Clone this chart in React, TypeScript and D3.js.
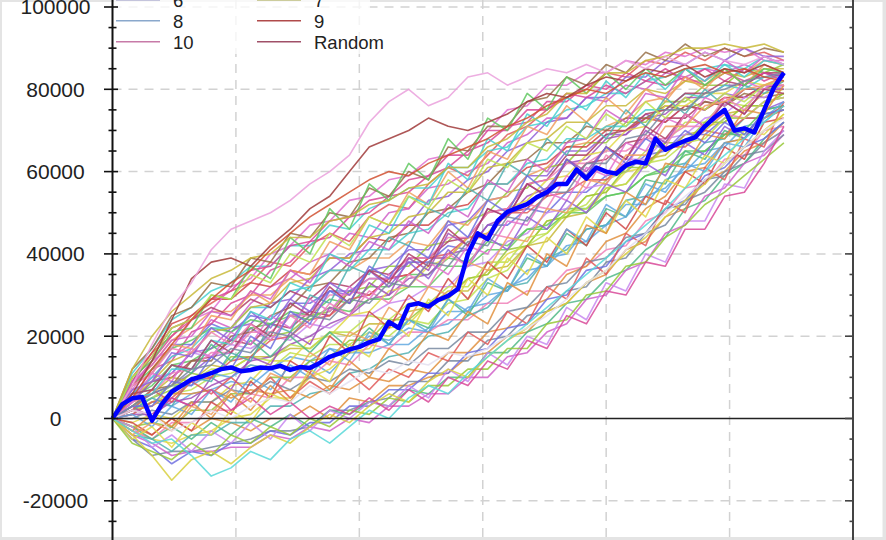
import React from "react";
import * as d3 from "d3";

// Values are in thousands of currency units (k). x step of simulated paths: 8 trades; blue path: 4 trades.
const UNIT = 1000;
const SIM_STEP = 8;
const EQUITY_STEP = 4;

const equityCurve = [0,3.5,4.9,5.2,-0.5,3.5,6.5,8,9.5,10.2,11,12,12.4,11.5,11.8,12.4,12.2,12.8,11.8,12.5,12.3,13.5,15,15.8,16.8,17.4,18.5,19.3,23.5,22,27.5,28,27.2,28.8,29.8,31.5,40,45,43.6,48,50.2,51.2,52.1,53.8,55,57,57,60.5,58.3,61,60,59.5,61.5,62.4,62,68,65.3,66.5,67.5,68.3,71,73.2,75,70,70.5,69.5,75,80.5,84];

const s01 = [0,9,16,20,25,28,31,33,38,37,42,45,43,49,52,51,57,61,59,64,69,71,75,78,80,84,83,87,86,89,87,90,88,89,87];
const s02 = [0,6,10,15,18,24,22,28,32,34,38,40,45,44,50,51,56,57,60,62,67,69,73,73,78,77,81,80,84,83,85,84,86,84,83];
const s03 = [0,3,6,8,11,15,16,22,19,25,26,31,30,36,37,41,41,47,48,53,54,59,59,65,65,69,69,74,72,76,75,79,78,81,80];
const s04 = [0,1,4,3,6,7,9,8,12,9,14,11,16,16,18,18,22,23,27,28,32,34,39,40,46,47,52,52,58,60,65,66,71,72,76];
const s05 = [0,5,8,13,14,17,19,22,23,26,25,29,28,32,32,35,35,39,38,43,42,46,47,51,51,54,55,59,60,64,65,69,69,74,75];
const s06 = [0,-3,-5,-6,-4,-3,0,1,5,5,10,12,16,17,22,23,28,29,34,35,40,42,48,49,54,55,60,61,66,67,71,72,76,76,79];
const s07 = [0,11,17,24,27,31,33,37,37,42,42,47,46,51,53,56,56,61,61,65,66,71,72,75,76,79,79,82,83,85,85,86,85,88,86];
const s08 = [0,-2,-4,0,-3,0,-1,-3,0,0,3,0,5,4,8,8,10,11,15,16,20,21,26,28,33,35,41,43,49,51,58,60,65,67,72];
const s09 = [0,4,9,10,14,15,19,18,23,22,26,25,31,30,34,35,39,39,44,44,50,51,56,57,62,63,67,68,73,73,77,76,80,80,82];
const s10 = [0,2,5,7,11,10,15,15,20,21,25,26,31,32,37,37,42,43,48,50,55,56,61,62,67,67,72,72,77,77,81,81,85,84,86];
const s11 = [0,-3,-5,-1,-1,2,2,6,5,10,10,14,13,18,17,21,21,24,24,28,28,31,31,36,37,41,42,48,50,56,57,63,64,70,71];
const s12 = [0,8,11,18,18,23,21,25,24,28,28,31,31,34,34,38,38,42,41,47,47,51,50,55,55,59,60,64,65,69,69,73,73,77,78];
const s13 = [0,2,4,6,7,10,11,13,12,16,15,18,18,21,20,24,23,28,29,34,36,42,45,50,52,58,60,65,67,72,72,77,76,80,81];
const s14 = [0,5,12,14,21,23,28,30,36,38,43,44,49,50,54,55,59,61,65,67,71,72,77,77,81,80,84,82,85,82,85,82,85,82,84];
const s15 = [0,-5,-9,-8,-8,-7,-6,-5,-3,-3,-2,2,2,4,5,9,9,14,14,19,20,25,26,31,32,38,39,45,47,53,55,60,62,67,70];
const s16 = [0,4,6,10,9,13,12,15,15,17,17,21,20,23,23,26,27,31,31,36,37,42,43,49,50,56,57,63,64,69,70,74,75,79,80];
const s17 = [0,8,13,19,22,26,26,30,30,34,32,36,36,39,39,43,42,48,47,53,54,59,61,66,67,71,73,77,78,82,82,85,84,87,86];
const s18 = [0,1,1,4,5,8,10,14,15,18,20,23,25,29,30,34,35,40,41,47,49,54,56,62,63,68,69,73,74,78,78,81,81,84,83];
const s19 = [0,-2,-5,-2,-5,-1,-4,0,-2,1,-2,2,1,4,3,7,6,10,10,16,16,21,23,28,29,34,36,41,44,51,53,59,62,68,72];
const s20 = [0,10,16,23,25,29,29,33,32,36,35,39,39,44,43,47,47,51,52,57,57,61,62,66,66,70,70,73,72,76,75,78,78,81,81];
const s21 = [0,3,7,8,14,14,20,21,25,27,32,33,38,39,44,45,50,51,55,57,62,63,67,67,71,70,73,73,76,75,77,76,79,78,79];
const s22 = [0,-4,-5,-8,-4,-4,-1,-1,3,3,6,7,11,12,15,16,20,21,25,27,32,33,39,41,46,47,53,54,61,62,67,68,73,73,76];
const s23 = [0,5,10,11,16,15,18,17,20,19,23,22,25,25,28,29,32,32,37,38,43,45,50,51,56,57,63,63,68,69,73,74,78,78,81];
const s24 = [0,7,14,17,24,26,32,34,40,42,47,48,53,54,58,59,63,64,69,70,75,76,81,81,84,84,87,86,89,88,90,89,90,87,87];
const s25 = [0,1,4,5,9,10,14,15,19,20,24,25,29,30,34,35,39,40,44,45,50,50,54,55,58,58,62,62,66,66,70,69,73,73,76];
const s26 = [0,-4,-6,-9,-8,-8,-7,-7,-4,-5,-2,-3,0,-1,3,3,6,6,10,10,15,16,21,23,29,30,36,38,45,47,54,56,62,64,69];
const s27 = [0,4,9,11,16,17,22,23,28,29,34,36,40,41,47,47,53,54,58,60,65,67,72,73,78,78,83,83,87,86,89,87,90,88,88];
const s28 = [0,3,5,8,8,11,10,13,12,15,14,17,16,20,19,22,21,26,26,30,31,36,37,42,43,47,49,54,56,61,62,67,68,73,75];
const s29 = [0,8,12,17,19,22,21,24,23,25,24,27,26,29,29,32,32,37,37,41,41,46,46,50,50,54,55,59,61,65,65,69,70,75,76];
const s30 = [0,-1,1,0,4,4,8,9,14,14,19,20,25,26,31,32,37,39,44,45,51,53,58,59,64,65,70,71,76,76,79,79,82,81,83];
const s31 = [0,6,10,15,17,22,22,27,27,31,32,36,36,41,41,45,46,50,51,57,57,62,63,68,68,71,71,75,75,79,78,81,80,83,83];
const s32 = [0,2,3,6,6,7,5,7,6,7,5,8,7,10,9,12,11,16,16,21,22,27,29,35,37,43,45,51,54,60,61,67,68,73,75];
const s33 = [0,9,15,22,24,27,25,29,27,31,29,33,32,36,35,39,39,43,44,50,51,57,58,64,64,69,70,74,75,79,79,82,81,84,84];
const s34 = [0,-2,-1,-2,2,2,6,6,10,10,14,15,19,19,24,24,28,30,34,35,41,42,48,49,54,55,61,61,67,67,72,72,76,76,79];
const s35 = [0,4,6,11,12,16,16,21,21,25,25,30,30,34,34,39,39,44,44,50,51,57,58,62,62,65,65,68,68,71,71,74,73,77,78];
const s36 = [0,-5,-7,-11,-8,-9,-6,-6,-3,-4,-1,-1,3,3,7,7,11,11,16,17,22,23,29,30,36,37,43,45,51,53,59,61,66,68,72];
const s37 = [0,3,5,8,9,12,12,15,14,18,17,21,21,25,24,28,28,32,32,38,38,44,45,50,51,56,57,62,63,67,68,73,73,77,78];
const s38 = [0,8,14,20,24,29,31,36,37,42,43,48,49,53,54,58,59,64,64,70,70,75,75,79,78,81,79,82,81,83,81,84,82,84,82];
const s39 = [0,0,2,1,4,4,7,6,9,7,10,9,12,11,14,13,17,17,21,21,26,27,32,33,38,39,44,45,51,52,58,59,64,65,69];
const s40 = [0,5,9,14,16,21,22,27,28,33,34,39,39,44,45,49,50,55,55,61,62,67,68,72,72,76,76,80,79,82,81,84,83,85,85];
const s41 = [0,8,11,18,17,25,24,31,28,36,35,43,41,49,47,55,52,60,56,65,63,71,69,76,72,78,74,80,77,83,80,85,81,86,84];
const s42 = [0,3,0,5,3,10,7,15,13,21,18,27,25,33,30,39,36,45,42,51,49,57,54,63,60,66,63,70,67,74,71,77,74,80,80];
const s43 = [0,6,7,13,11,18,14,19,15,20,16,21,17,22,18,24,22,29,25,33,31,39,37,45,42,51,49,58,57,65,63,70,68,75,76];
const s44 = [0,-1,-4,0,-3,4,1,9,5,14,11,20,16,26,22,30,26,34,29,38,34,42,38,46,42,50,46,54,52,60,57,66,63,72,73];
const s45 = [0,12,17,25,27,33,32,39,38,45,44,50,49,56,54,60,58,66,65,71,71,77,78,83,81,86,84,89,87,91,88,90,88,90,89];
const s46 = [0,2,5,3,10,9,16,14,23,21,30,28,37,35,44,42,51,49,56,53,62,59,68,64,72,68,75,71,78,74,80,76,81,79,82];
const s47 = [0,-2,-7,-4,-8,-3,-6,-1,-5,1,-3,2,0,4,3,8,5,12,9,16,13,20,18,27,24,33,31,40,38,48,48,57,56,65,70];
const s48 = [0,4,11,9,17,15,21,18,25,22,29,26,32,29,35,32,38,35,42,40,48,47,55,53,61,59,67,65,73,71,78,76,82,80,84];
const s49 = [0,2,7,4,9,6,10,6,10,5,9,6,11,7,12,10,16,14,21,18,26,23,32,29,39,35,45,42,53,50,61,58,68,66,77];
const s50 = [0,9,13,19,20,26,25,31,29,36,33,40,37,43,41,48,45,52,49,58,55,63,60,67,68,75,72,79,78,85,82,87,84,88,86];
const s51 = [0,7,9,16,15,22,19,26,22,29,26,33,30,36,32,38,34,41,37,44,41,49,46,53,50,57,55,62,59,67,64,71,68,75,77];
const s52 = [0,1,-2,3,1,7,4,10,7,13,10,17,14,21,18,24,21,29,26,34,31,40,37,46,43,52,49,57,55,62,60,67,66,73,77];
const s53 = [0,10,14,21,22,30,29,37,34,44,40,51,46,57,53,62,58,68,63,73,70,79,75,83,79,84,80,85,81,85,81,85,81,85,84];
const s54 = [0,-5,-2,-7,-1,-4,2,-1,6,4,12,9,18,15,24,20,29,25,34,30,39,35,44,40,49,45,53,49,58,56,64,62,70,69,74];
const s55 = [0,5,6,12,12,19,18,26,24,33,31,40,38,47,45,54,52,62,58,68,65,74,71,78,75,82,78,84,80,85,82,86,83,87,86];
const s56 = [0,-3,1,-2,4,0,6,2,8,4,11,7,14,10,17,14,21,19,26,23,33,30,40,37,47,45,55,52,62,61,69,68,75,74,81];
const s57 = [0,6,7,13,12,19,16,23,20,28,25,32,28,36,33,40,37,46,42,51,49,57,54,63,59,66,63,71,68,74,71,77,74,80,79];
const s58 = [0,-6,-8,-10,-6,-9,-4,-6,-2,-4,0,-2,2,1,5,4,8,8,12,12,17,17,23,24,30,31,37,38,44,47,52,55,59,63,67];
const s59 = [0,8,11,17,16,21,18,23,19,25,22,28,25,31,28,35,32,40,37,45,44,52,51,59,56,64,61,69,66,74,71,78,75,81,81];
const s60 = [0,3,3,9,8,15,12,20,17,26,23,31,28,37,34,42,39,48,44,53,50,59,55,63,59,66,62,68,65,70,67,72,69,74,75];
const s61 = [0,10,15,22,24,30,29,35,33,40,38,45,42,49,47,54,51,58,55,63,61,67,65,71,68,74,71,77,73,78,75,79,77,81,82];
const s62 = [0,2,1,5,3,7,2,5,1,4,0,3,1,5,2,7,4,10,8,14,12,19,17,25,23,31,30,38,37,46,46,54,55,62,71];
const s63 = [0,3,6,8,12,13,17,16,21,20,25,24,29,28,33,32,38,37,43,42,49,48,55,55,62,62,68,69,75,75,79,80,82,83,84];
const s64 = [0,12,20,26,30,34,36,39,40,44,44,48,49,52,53,56,57,61,61,66,68,72,74,79,79,84,84,87,88,90,90,91,90,91,89];
const s65 = [0,-4,-1,-3,3,1,7,4,11,9,16,13,21,19,27,24,32,30,38,36,44,43,51,50,58,57,64,64,71,71,76,77,80,81,83];
const lowYellow = [0,-4,-9,-15,-10,-8,-11,-7,-4,-6,-2,1,-1,3,6,4,9,12,10,15,19,22,26,28,33,36,40,44,49,53,57,62,66,70,74];
const lowCyan = [0,-3,-6,-5,-9,-14,-12,-8,-10,-5,-3,-6,-2,2,0,5,8,6,11,15,19,23,27,31,35,39,43,47,51,56,60,64,68,72,76];
const lowGhost = [0,2,1,-3,-1,2,0,3,5,4,8,6,9,12,11,14,13,16,15,17,20,22,25,29,33,36,41,45,50,54,58,62,66,70,73];
const topOrange = [0,5,12,18,24,29,33,36,41,45,49,52,55,58,60,59,62,64,66,68,71,73,76,78,80,79,82,84,83,85,86,84,85,83,82];
const topDarkRed = [0,6,14,24,34,38,39,37,42,46,51,54,60,66,68,70,73,71,70,72,74,77,79,78,81,83,82,85,84,86,83,85,84,86,84];
const topPink = [0,8,18,27,33,41,46,48,50,53,57,60,64,72,77,80,76,78,83,84,81,83,85,84,86,84,87,85,88,86,89,87,86,88,86];

const simulations = [s01,s02,s03,s04,s05,s06,s07,s08,s09,s10,s11,s12,s13,s14,s15,s16,s17,s18,s19,s20,s21,s22,s23,s24,s25,s26,s27,s28,s29,s30,s31,s32,s33,s34,s35,s36,s37,s38,s39,s40,s41,s42,s43,s44,s45,s46,s47,s48,s49,s50,s51,s52,s53,s54,s55,s56,s57,s58,s59,s60,s61,s62,s63,s64,s65,lowYellow,lowCyan,lowGhost,topOrange,topDarkRed,topPink];

const palette = ["#e05a5a","#d060c8","#9060d8","#60a8e0","#60c860","#e0d848","#48d0d0","#e09040","#b04068","#98c838","#f080b8","#7070e0","#c0e050","#d84898","#7888a0","#c8b838","#f0a060","#a050b8","#50b888","#d04848","#987048","#50b0b0","#c888f0","#e070d0"];
const specialColors = ["#d8d040","#58d8d8","#e4e0f0","#d05030","#a03a3a","#eaa0dc"];

const legendLabels = ["0","1","2","3","4","5","6","7","8","9","10","Random"];
const legendColors = ["#e05050","#50a0d0","#60c060","#d070c0","#d8d040","#40c0c0","#9090c0","#a0a040","#8aa8cc","#b04a4a","#c77aa8","#a05068"];

const yTicksMajor = [-20000,0,20000,40000,60000,80000,100000];
const xGrid = [50,100,150,200,250];

export default function App() {
  const W = 886, H = 540;
  const x = d3.scaleLinear().domain([0, 300]).range([112.5, 853]);
  const y = d3.scaleLinear().domain([-20000, 100000]).range([500.8, 7]);
  const simLine = d3.line<number>().x((_, i) => x(i * SIM_STEP)).y(v => y(v * UNIT));
  const eqLine = d3.line<number>().x((_, i) => x(i * EQUITY_STEP)).y(v => y(v * UNIT));
  const minor = d3.range(-30000, 100001, 5000);
  const font = "'Liberation Sans', Arial, sans-serif";
  const nSpecial = specialColors.length;
  const nSim = simulations.length;
  return (
    <svg width={W} height={H} style={{ position: "absolute", left: 0, top: 0 }} fontFamily={font}>
      <rect x={0} y={0} width={W} height={H} fill="#e4e4e4" />
      <rect x={2} y={2} width={880.5} height={535} fill="#ffffff" />
      <g stroke="#d2d2d2" strokeWidth={1.5} strokeDasharray="9,7">
        {yTicksMajor.filter(v => v !== 0).map(v => (
          <line key={"hg" + v} x1={x(0)} x2={x(300)} y1={y(v)} y2={y(v)} />
        ))}
        {xGrid.map(v => (
          <line key={"vg" + v} x1={x(v)} x2={x(v)} y1={0} y2={H} />
        ))}
      </g>
      <rect x={114} y={-80} width={256} height={134} fill="#ffffff" opacity={0.75} />
      <g fill="none" strokeWidth={1.6} strokeLinejoin="round">
        {simulations.map((s, k) => {
          const special = k >= nSim - nSpecial;
          const color = special ? specialColors[k - (nSim - nSpecial)] : palette[k % palette.length];
          return <path key={"s" + k} d={simLine(s) || ""} stroke={color} opacity={0.85} />;
        })}
      </g>
      <line x1={x(0)} x2={x(300)} y1={y(0)} y2={y(0)} stroke="#222" strokeWidth={1.6} />
      <path d={eqLine(equityCurve) || ""} fill="none" stroke="#0000ff" strokeWidth={4.5} strokeLinejoin="round" />
      <line x1={x(0)} x2={x(0)} y1={0} y2={H} stroke="#111" strokeWidth={2} />
      <line x1={x(300)} x2={x(300)} y1={0} y2={H} stroke="#444" strokeWidth={2} />
      <g stroke="#111" strokeWidth={1.6}>
        {minor.map(v => {
          const major = v % 20000 === 0;
          return <line key={"lt" + v} x1={major ? 104 : 108.5} x2={major ? 118 : 116.5} y1={y(v)} y2={y(v)} />;
        })}
      </g>
      <g stroke="#444" strokeWidth={1.6}>
        {minor.map(v => {
          const major = v % 20000 === 0;
          return <line key={"rt" + v} x1={major ? 845 : 849.5} x2={853} y1={y(v)} y2={y(v)} />;
        })}
      </g>
      <g fill="#222" fontSize={21} textAnchor="middle">
        {yTicksMajor.map(v => (
          <text key={"yl" + v} x={55.5} y={y(v)} dy="0.35em">{v}</text>
        ))}
      </g>
      <g fontSize={18.5} fill="#222">
        {legendLabels.map((lab, k) => {
          const col = k % 2;
          const row = Math.floor(k / 2);
          const ly = 41.7 - (5 - row) * 21;
          const lx = col === 0 ? 116 : 257;
          return (
            <g key={"lg" + k}>
              <line x1={lx} x2={lx + 44} y1={ly} y2={ly} stroke={legendColors[k]} strokeWidth={1.5} />
              <text x={lx + 57} y={ly + 7}>{lab}</text>
            </g>
          );
        })}
      </g>
    </svg>
  );
}
